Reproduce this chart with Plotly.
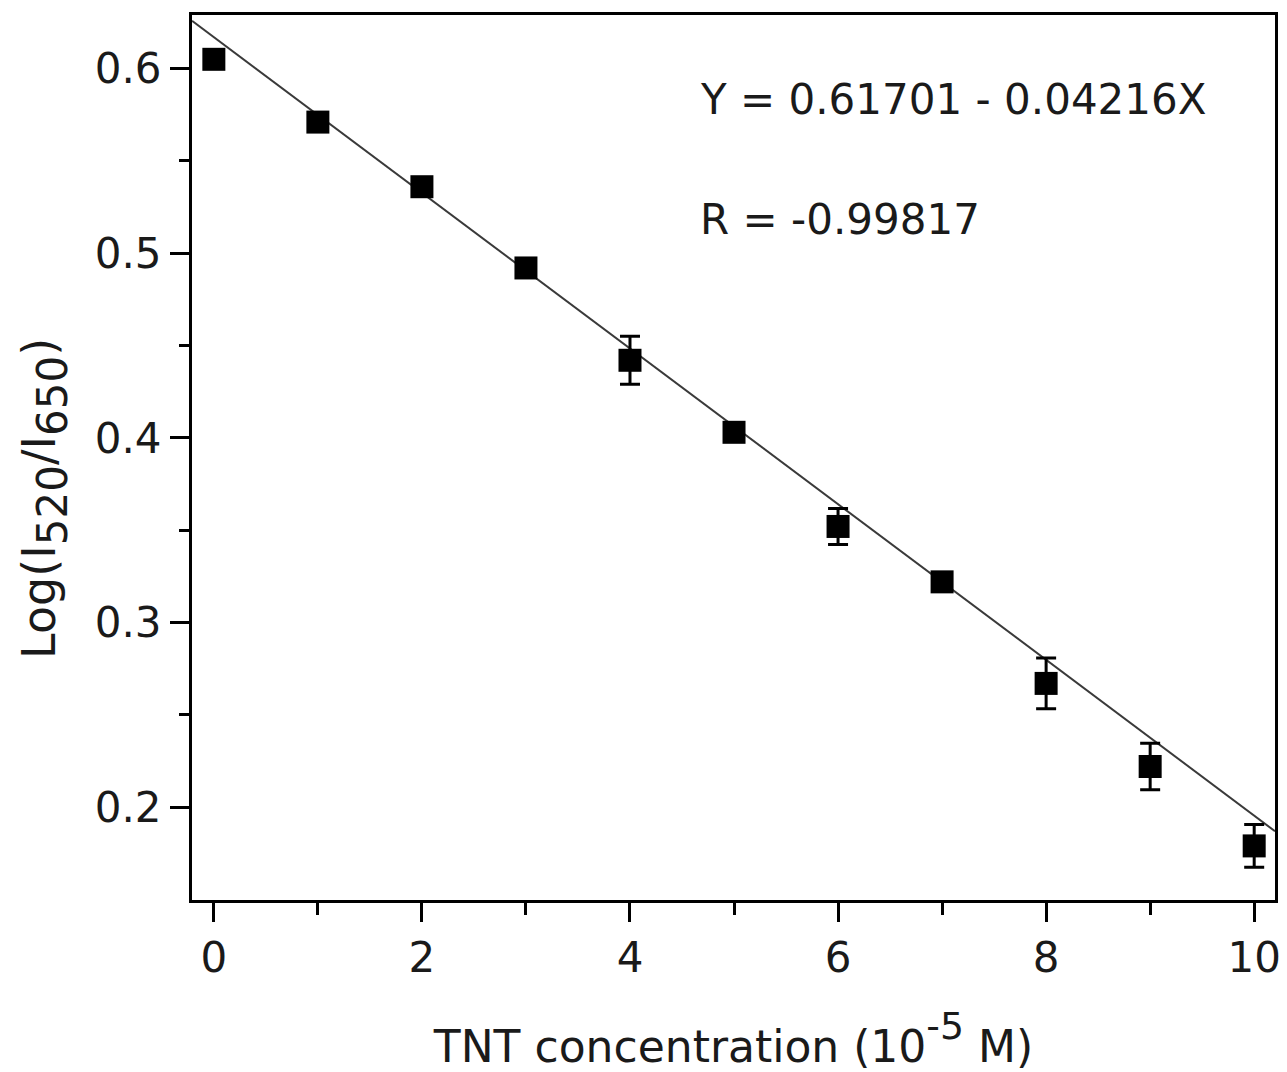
import plotly.graph_objects as go

# TNT concentration (10^-5 M) and measured log ratio
conc = [0, 1, 2, 3, 4, 5, 6, 7, 8, 9, 10]
log_ratio = [0.605, 0.571, 0.536, 0.492, 0.442, 0.403, 0.352, 0.322, 0.267, 0.222, 0.179]
err = [0, 0, 0, 0, 0.013, 0, 0.0097, 0, 0.0137, 0.0126, 0.0116]

# linear fit from the figure
intercept = 0.61701
slope = -0.04216
r_value = -0.99817
x_range = [-0.21, 10.2]
y_range = [0.1497, 0.629]

FONT = "DejaVu Sans, Arial, sans-serif"
TXT = "#1a1a1a"
fit_x = x_range
fit_y = [intercept + slope * x for x in fit_x]

fig = go.Figure()
fig.add_trace(go.Scatter(
    x=fit_x, y=fit_y, mode="lines",
    line=dict(color="#3a3a3a", width=2),
    hoverinfo="skip", showlegend=False,
))
fig.add_trace(go.Scatter(
    x=conc, y=log_ratio, mode="markers",
    marker=dict(symbol="square", size=23, color="black"),
    error_y=dict(type="data", array=err, visible=True, color="black", thickness=3, width=10),
    showlegend=False,
))

fig.add_annotation(
    x=4.65, y=0.583, xref="x", yref="y", xanchor="left", yanchor="middle",
    text=f"Y = {intercept:.5f} - {abs(slope):.5f}X", showarrow=False,
    font=dict(family=FONT, size=42, color=TXT),
)
fig.add_annotation(
    x=4.65, y=0.518, xref="x", yref="y", xanchor="left", yanchor="middle",
    text=f"R = {r_value:.5f}", showarrow=False,
    font=dict(family=FONT, size=42, color=TXT),
)
# y-axis title (placed by hand, it sits below the axis middle in the original)
fig.add_annotation(
    x=-0.136, y=0.454, xref="paper", yref="paper", xanchor="center", yanchor="middle",
    textangle=-90, showarrow=False,
    text='Log(I<span style="font-size:60px"><sub>520</sub></span>/I<span style="font-size:60px"><sub>650</sub></span>)',
    font=dict(family=FONT, size=46, color=TXT),
)

axis_common = dict(
    showline=True, linecolor="black", linewidth=3, mirror=True,
    showgrid=False, zeroline=False, automargin=False,
    ticks="outside", ticklen=19, tickwidth=3, tickcolor="black",
    tickfont=dict(family=FONT, size=42, color=TXT),
)

# page body adds an 8px offset, margins compensate for it
fig.update_layout(
    width=1287, height=1072,
    margin=dict(l=184, r=20, t=7, b=180),
    paper_bgcolor="white", plot_bgcolor="white",
    font=dict(family=FONT, color=TXT),
    xaxis=dict(
        range=x_range, tickmode="array", tickvals=[0, 2, 4, 6, 8, 10],
        minor=dict(tickvals=[1, 3, 5, 7, 9], ticks="outside", ticklen=12, tickwidth=3, tickcolor="black"),
        title=dict(
            text='TNT concentration (10<span style="font-size:54px"><sup>-5</sup></span> M)',
            font=dict(family=FONT, size=44), standoff=50,
        ),
        **axis_common,
    ),
    yaxis=dict(
        range=y_range, tickmode="array", tickvals=[0.2, 0.3, 0.4, 0.5, 0.6],
        ticktext=["0.2", "0.3", "0.4", "0.5", "0.6"],
        minor=dict(tickvals=[0.25, 0.35, 0.45, 0.55], ticks="outside", ticklen=10, tickwidth=3, tickcolor="black"),
        **axis_common,
    ),
)

fig.write_html("out.html")
